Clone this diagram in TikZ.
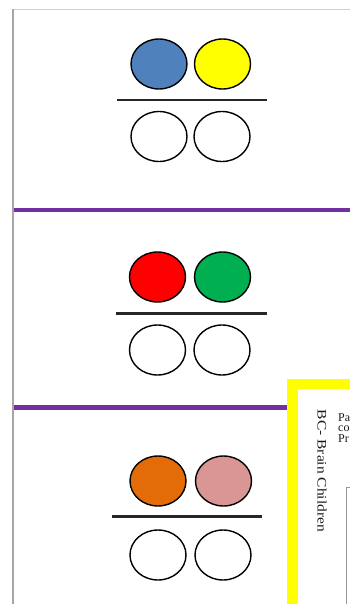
\documentclass[tikz,border=0pt]{standalone}
\usepackage{fontspec}
\setmainfont{Liberation Serif}
\usetikzlibrary{shapes.geometric}
\definecolor{cblue}{HTML}{4F81BD}
\definecolor{cyellow}{HTML}{FFFF00}
\definecolor{cred}{HTML}{FF0000}
\definecolor{cgreen}{HTML}{00B050}
\definecolor{corange}{HTML}{E36C09}
\definecolor{cpink}{HTML}{D99694}
\definecolor{cpurple}{HTML}{7030A0}
\definecolor{cframe}{HTML}{A6A6A6}
\tikzset{
  oval/.style={ellipse, draw=black, line width=1.4pt, minimum width=56pt, minimum height=50pt, inner sep=0pt},
  bar/.style={line width=2.6pt, black!85},
  divider/.style={line width=4.5pt, cpurple},
  pagetext/.style={inner sep=0pt, text=black!90},
}
\begin{document}
\begin{tikzpicture}[x=1pt,y=-1pt]
\useasboundingbox (0,0) rectangle (350,604);
\fill[white] (0,0) rectangle (350,604);
% page frame
\draw[line width=1.2pt, black!18] (12,9.5) -- (350,9.5);
\draw[line width=2pt, cframe] (12.5,9) -- (12.5,604);
% dividers
\draw[divider] (13.5,210) -- (350,210);
\draw[divider] (13.5,407.5) -- (288,407.5);
% panel 1
\node[oval, fill=cblue] (a1) at (159,64) {};
\node[oval, fill=cyellow] (a2) at (222.5,64) {};
\coordinate (l1a) at (117,100);
\coordinate (l1b) at (267,100);
\draw[bar] (l1a) -- (l1b);
\node[oval, fill=white] (a3) at (159,136.5) {};
\node[oval, fill=white] (a4) at (222,136.5) {};
% panel 2
\node[oval, fill=cred] (b1) at (157.5,277) {};
\node[oval, fill=cgreen] (b2) at (222.5,277) {};
\coordinate (l2a) at (116,313.3);
\coordinate (l2b) at (267,313.3);
\draw[bar] (l2a) -- (l2b);
\node[oval, fill=white] (b3) at (157.5,350) {};
\node[oval, fill=white] (b4) at (222,350) {};
% panel 3
\node[oval, fill=corange] (c1) at (158,481) {};
\node[oval, fill=cpink] (c2) at (223.5,481) {};
\coordinate (l3a) at (112,516.7);
\coordinate (l3b) at (262,516.7);
\draw[bar] (l3a) -- (l3b);
\node[oval, fill=white] (c3) at (158,555) {};
\node[oval, fill=white] (c4) at (223,555) {};
% yellow framed page
\fill[cyellow] (287,378.5) rectangle (360,610);
\fill[white] (298,389) rectangle (360,610);
\node[pagetext, rotate=-90, font=\fontsize{13}{13}\selectfont, xscale=1.19, transform shape] (bc) at (322,471) {BC- Brain Children};
\node[pagetext, anchor=north west, align=left, font=\fontsize{12}{10.5}\selectfont] (t1) at (338,413) {Pa\\co\\Pr};
\draw[line width=1pt, black!40] (346.5,610) -- (346.5,487) -- (352,487);
\end{tikzpicture}
\end{document}
